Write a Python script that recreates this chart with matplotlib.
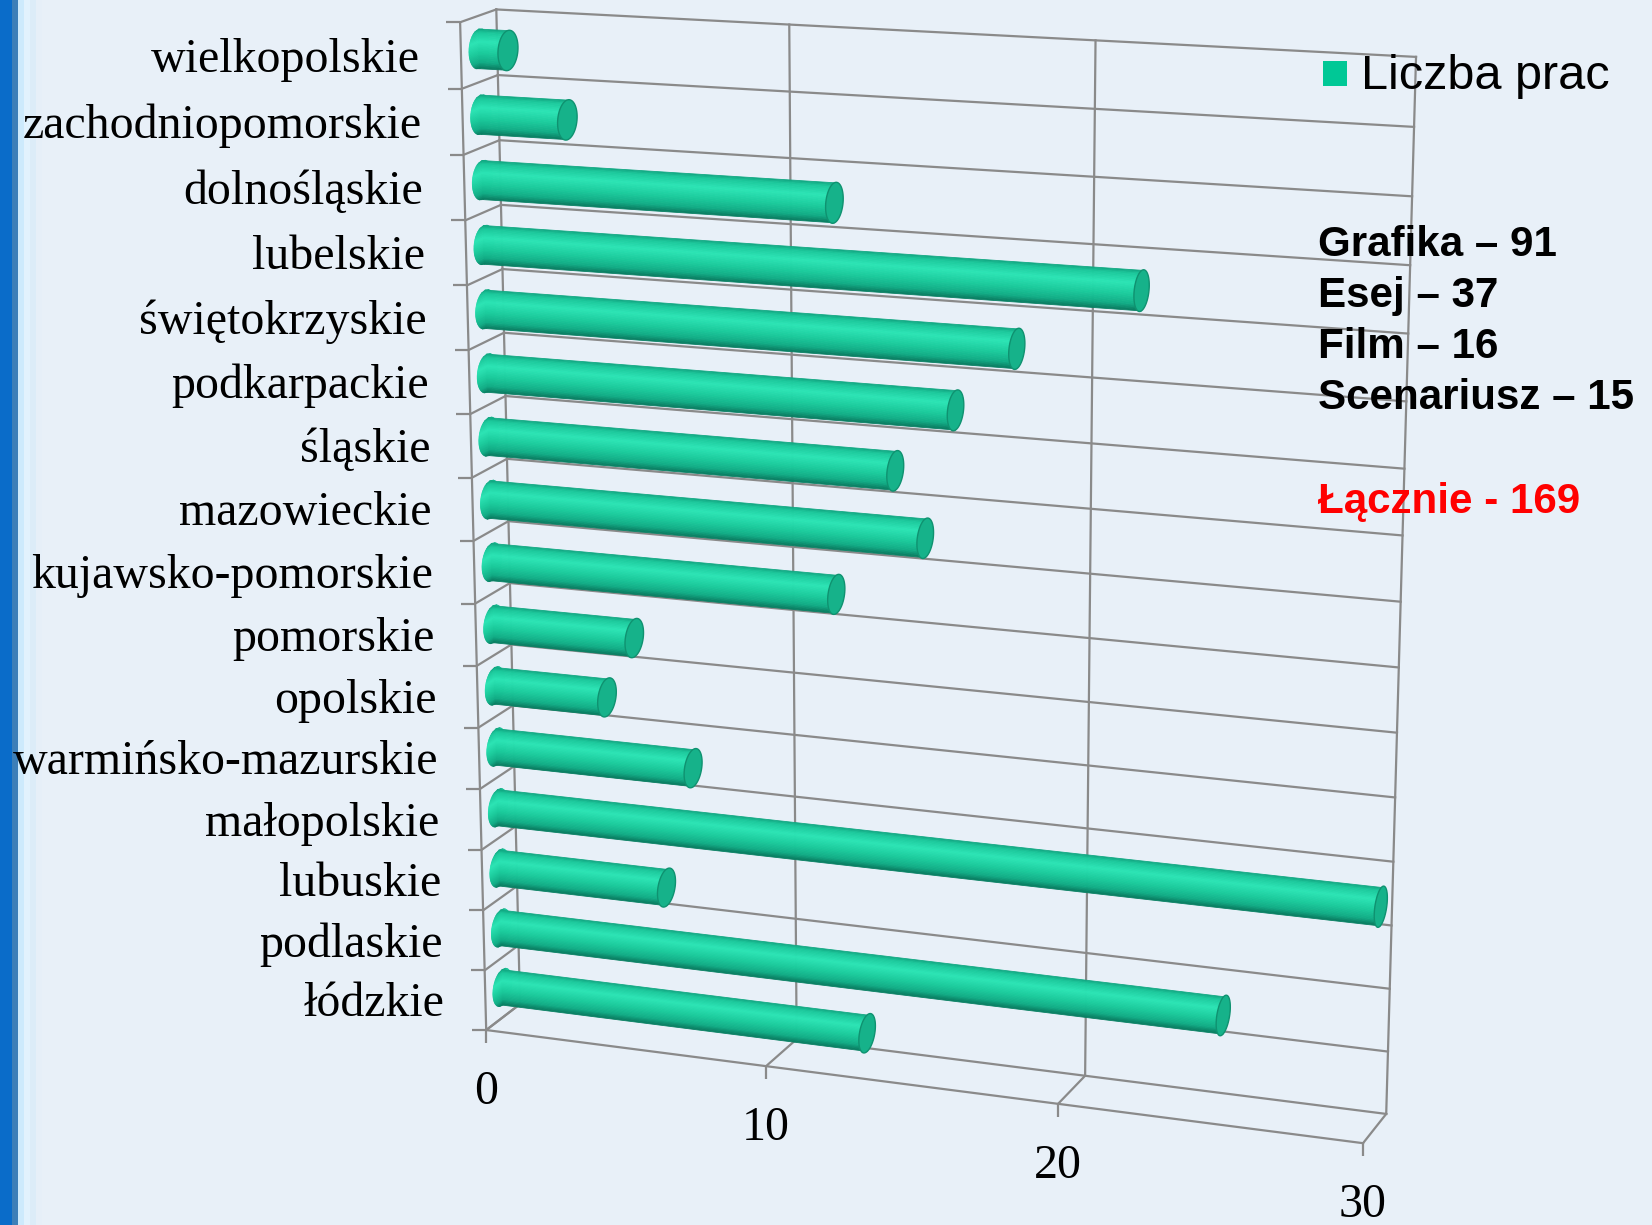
import numpy as np
import matplotlib
matplotlib.use('Agg')
import matplotlib.pyplot as plt
import matplotlib.transforms as mtransforms
from matplotlib.collections import PolyCollection
from matplotlib.patches import Rectangle, Polygon
from matplotlib.lines import TICKLEFT, TICKDOWN

regions = ['wielkopolskie', 'zachodniopomorskie', 'dolnośląskie', 'lubelskie',
           'świętokrzyskie', 'podkarpackie', 'śląskie', 'mazowieckie',
           'kujawsko-pomorskie', 'pomorskie', 'opolskie', 'warmińsko-mazurskie',
           'małopolskie', 'lubuskie', 'podlaskie', 'łódzkie']
counts = [1, 3, 12, 22, 18, 16, 14, 15, 12, 5, 4, 7, 30, 6, 25, 13]
x_ticks = [0, 10, 20, 30]
legend_label = 'Liczba prac'
summary = ['Grafika – 91', 'Esej – 37', 'Film – 16', 'Scenariusz – 15']
total_label = 'Łącznie - 169'

n = len(regions)
xmax = x_ticks[-1]

# --- camera: fit a 3x4 projection from the box corners (x=value, y=slot, z=depth 0 front / 1 back)
world = np.array([
    [0, n, 1], [0, n, 0], [0, 0, 1], [0, 0, 0],
    [xmax, 0, 1], [xmax, 0, 0], [xmax, n, 1],
    [10, 0, 1], [10, 0, 0], [20, 0, 1], [20, 0, 0],
    [10, n, 1], [0, 1, 0], [xmax, 4, 1], [xmax, 1, 1],
], float)
pix = np.array([
    [498, 9], [458, 22], [519, 1006], [487, 1029],
    [1387, 1112], [1363, 1145], [1416, 57],
    [793, 1042], [766, 1066], [1087, 1072], [1057, 1105],
    [790, 25], [487, 969], [1391, 863], [1390, 1051],
], float)

Tn = np.array([[1 / 500, 0, -900 / 500], [0, 1 / 500, -600 / 500], [0, 0, 1]])
Sn = np.diag([1 / xmax, 1 / n, 1, 1])
wn = world / np.array([xmax, n, 1])
pn = (np.c_[pix, np.ones(len(pix))] @ Tn.T)[:, :2]
rows = []
for (X, Y, Z), (u, v) in zip(wn, pn):
    rows.append([X, Y, Z, 1, 0, 0, 0, 0, -u * X, -u * Y, -u * Z, -u])
    rows.append([0, 0, 0, 0, X, Y, Z, 1, -v * X, -v * Y, -v * Z, -v])
_, _, vt = np.linalg.svd(np.array(rows))
P = np.linalg.inv(Tn) @ vt[-1].reshape(3, 4) @ Sn


class PlaneMap(mtransforms.Transform):
    """maps 2D coords lying on one plane of the 3D box to pixel coords"""
    input_dims = 2
    output_dims = 2
    is_separable = False
    has_inverse = False

    def __init__(self, fixed_axis, value):
        super().__init__()
        self.k = fixed_axis
        self.c = value
        self.free = [i for i in range(3) if i != fixed_axis]

    def transform_non_affine(self, values):
        values = np.atleast_2d(np.asarray(values, float))
        X = np.ones((len(values), 4))
        X[:, self.k] = self.c
        X[:, self.free[0]] = values[:, 0]
        X[:, self.free[1]] = values[:, 1]
        q = X @ P.T
        return q[:, :2] / q[:, 2:3]


fig = plt.figure(figsize=(16.52, 12.25), dpi=100)
fig.patch.set_facecolor('#e8f0f8')
ax = fig.add_axes([0, 0, 1, 1])
ax.set_xlim(0, 1652)
ax.set_ylim(1225, 0)
ax.axis('off')


def plane(k, c):
    return PlaneMap(k, c) + ax.transData


back = plane(2, 1.0)    # (x, y)
floor = plane(1, 0.0)   # (x, z)
left = plane(0, 0.0)    # (y, z)

# left blue border of the slide
ax.add_patch(Rectangle((0, 0), 12, 1225, color='#0a6cc9', lw=0))
for i, c in enumerate(['#3d7fb8', '#cdeafc', '#e2f2fd', '#dcecf8', '#e6eff8']):
    ax.add_patch(Rectangle((12 + i * 6, 0), 6, 1225, color=c, lw=0))

gc = '#8a8a8a'
glw = 1.6
for x in x_ticks:
    ax.plot([x, x], [0, n], color=gc, lw=glw, transform=back, zorder=1)
    ax.plot([x, x], [0, 1], color=gc, lw=glw, transform=floor, zorder=1)
for y in range(n + 1):
    ax.plot([0, xmax], [y, y], color=gc, lw=glw, transform=back, zorder=1)
    ax.plot([y, y], [0, 1], color=gc, lw=glw, transform=left, zorder=1)
ax.plot([0, xmax], [0, 0], color=gc, lw=glw, transform=floor, zorder=1)
ax.plot([0, n], [0, 0], color=gc, lw=glw, transform=left, zorder=1)
ax.plot(range(n + 1), [0] * (n + 1), ls='none', marker=TICKLEFT, ms=10,
        mew=glw, color=gc, transform=left, zorder=1)
ax.plot(x_ticks, [0] * len(x_ticks), ls='none', marker=TICKDOWN, ms=9.5,
        mew=glw, color=gc, transform=floor, zorder=1)

# category labels and value ticks
for i, name in enumerate(regions):
    yc = n - 1 - i + 0.5
    ax.text(yc, 0, name, ha='right', va='center', fontsize=34.5,
            family='Liberation Serif',
            transform=mtransforms.offset_copy(left, fig=fig, x=-41, y=-4, units='dots'))
for x in x_ticks:
    ax.text(x, 0, str(x), ha='center', va='center', fontsize=34.5,
            family='Liberation Serif',
            transform=mtransforms.offset_copy(floor, fig=fig, x=0, y=-62, units='dots'))

# cylinders
zc, r, rz = 0.5, 0.3, 0.28
bar_plane = plane(2, zc)
stops = [0.0, 0.1, 0.33, 0.6, 0.85, 1.0]
cols = np.array([matplotlib.colors.to_rgb(c) for c in
                 ['#10a27e', '#1cc99c', '#2ce5b5', '#1ccd9e', '#12ad86', '#097c60']])
nst = 30
tt = np.linspace(0, 2 * np.pi, 60)
for i, v in enumerate(counts):
    yc = n - 1 - i + 0.5
    verts, caps, fcs = [], [], []
    for k in range(nst):
        y0 = yc + r - 2 * r * k / nst
        y1 = yc + r - 2 * r * (k + 1) / nst
        w0 = rz * np.sqrt(max(0.0, 1 - ((y0 - yc) / r) ** 2))
        w1 = rz * np.sqrt(max(0.0, 1 - ((y1 - yc) / r) ** 2))
        t = (k + 0.5) / nst
        fcs.append([np.interp(t, stops, cols[:, j]) for j in range(3)])
        verts.append([(0, y0), (v, y0), (v, y1), (0, y1)])
        caps.append([(y0, zc - w0), (y0, zc + w0), (y1, zc + w1), (y1, zc - w1)])
    # rounded start (shaded like the body)
    ax.add_collection(PolyCollection(caps, facecolors=fcs, edgecolors=fcs,
                                     linewidths=0.6, transform=left, zorder=3))
    ax.add_collection(PolyCollection(verts, facecolors=fcs, edgecolors=fcs,
                                     linewidths=0.6, transform=bar_plane, zorder=4))
    # end face
    ax.add_patch(Polygon(np.c_[yc + r * np.sin(tt), zc + rz * np.cos(tt)],
                         closed=True, facecolor='#16b28a', edgecolor='#0f9270',
                         lw=1.0, transform=plane(0, v), zorder=5))

# legend
ax.add_patch(Rectangle((1323, 61), 24, 25, color='#00c896', lw=0))
ax.text(1361, 89, legend_label, fontsize=35, family='Liberation Sans', va='baseline')

for j, s in enumerate(summary):
    ax.text(1318, 256 + 51 * j, s, fontsize=30.3, weight='bold',
            family='Liberation Sans', va='baseline')
ax.text(1318, 513, total_label, fontsize=30.3, weight='bold', color='#ff0000',
        family='Liberation Sans', va='baseline')

fig.savefig('out.png', dpi=100, facecolor=fig.get_facecolor())
